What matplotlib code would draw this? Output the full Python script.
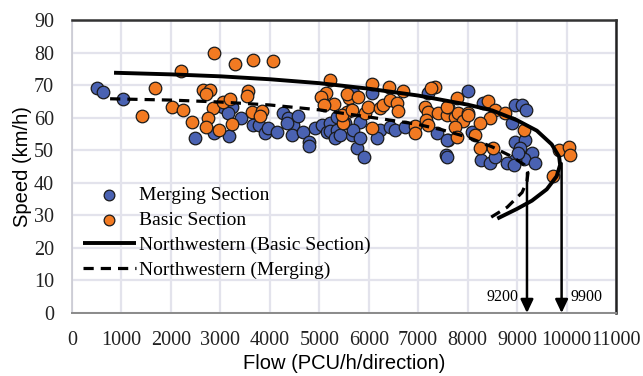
import matplotlib
matplotlib.use("Agg")
import matplotlib.pyplot as plt
import numpy as np

# ---------------- data ----------------
merging_flow = [500, 620, 1025, 2490, 2870, 3175, 3055, 3235, 3150, 3420, 3660, 3780, 3900, 3970,
                4145, 4270, 4370, 4470, 4570, 4450, 4340, 4670, 4790, 4790, 4915, 5055, 5160, 5215,
                5215, 5360, 5360, 5320, 5620, 5660, 5760, 5520, 5420, 5690, 6060, 5825, 5690, 5825,
                5905, 6230, 6430, 6530, 6735, 6175, 7375, 7610, 7565, 8085, 8270, 8455, 8555, 8015,
                7205, 8320, 8960, 9095, 9180, 8890, 7575, 7575, 8960, 9160, 9060, 9295, 9130, 8960,
                8790, 8940, 9365, 9025]
merging_speed = [69.0, 67.8, 65.8, 53.7, 55.2, 54.5, 63.4, 63.3, 61.5, 59.9, 57.7, 57.7, 55.3, 56.7,
                 55.7, 61.4, 59.9, 57.7, 60.5, 54.7, 58.3, 55.7, 52.6, 51.3, 56.8, 57.7, 55.7, 58.4,
                 56.0, 60.3, 56.2, 53.7, 66.4, 54.7, 50.7, 58.3, 54.7, 67.5, 67.5, 58.8, 56.2, 53.7,
                 48.0, 56.2, 57.2, 56.2, 57.2, 53.9, 55.2, 53.1, 48.5, 55.7, 47.0, 46.0, 48.0, 68.3,
                 67.5, 64.6, 63.9, 63.9, 62.3, 58.3, 48.0, 53.1, 52.6, 53.1, 50.6, 49.0, 47.2, 47.0,
                 46.0, 45.5, 46.2, 49.0]

basic_flow = [2870, 3300, 3655, 4070, 2200, 1680, 1410, 2015, 2250, 2435, 2650, 2790, 2700, 2860,
              2760, 2700, 2980, 3060, 3195, 3240, 3565, 3530, 3635, 3835, 3800, 5215, 5130, 5035,
              5305, 5100, 5595, 5640, 5475, 5555, 5455, 6060, 6400, 6700, 7340, 7250, 7780, 8405,
              8555, 8455, 8520, 8250, 5555, 5790, 5655, 5925, 5990, 6230, 6295, 6430, 6565, 6600,
              6060, 6935, 6935, 7140, 7205, 7160, 7205, 7410, 7590, 7745, 7610, 7810, 7915, 8015,
              7745, 7780, 8150, 8250, 7575, 8015, 8755, 9130, 9855, 10055, 10070, 9735]
basic_speed = [79.8, 76.4, 77.8, 77.4, 74.3, 69.2, 60.5, 63.4, 62.3, 58.6, 68.5, 68.5, 67.2, 63.1,
               59.8, 57.2, 56.2, 64.9, 65.6, 58.0, 68.3, 66.7, 61.6, 62.1, 60.6, 71.6, 67.5, 66.2,
               64.2, 63.8, 65.9, 62.3, 58.3, 61.8, 60.8, 70.3, 69.3, 68.3, 69.4, 69.0, 65.9, 65.1,
               62.3, 59.8, 50.6, 50.6, 67.2, 66.4, 62.3, 61.3, 63.4, 62.9, 63.9, 65.4, 64.4, 62.1,
               56.7, 57.4, 55.4, 63.4, 61.8, 59.3, 57.9, 61.5, 60.8, 60.3, 63.4, 61.3, 59.1, 61.3,
               57.2, 54.1, 54.7, 58.3, 63.4, 60.8, 61.5, 56.2, 50.1, 50.9, 48.5, 42.2]

nw_basic_flow = [850, 2000, 3000, 4000, 5000, 6000, 7000, 8000, 8500, 9000, 9400, 9700, 9850,
                 9870, 9800, 9600, 9300, 9000, 8600]
nw_basic_speed = [73.8, 73.3, 72.7, 71.8, 70.6, 68.9, 66.8, 64.0, 62.2, 59.2, 56.0, 51.8, 48.0,
                  45.5, 42.0, 38.0, 34.5, 32.0, 29.0]

nw_merge_flow = [770, 2000, 3000, 4000, 5000, 5500, 6000, 6500, 7000, 7500, 8000, 8500, 8900,
                 9150, 9220, 9200, 9100, 8800, 8450]
nw_merge_speed = [65.8, 65.4, 64.8, 63.9, 62.4, 61.3, 60.2, 59.1, 57.9, 56.2, 54.0, 51.0, 48.0,
                  45.5, 43.0, 40.5, 37.0, 32.5, 29.2]

capacity_values = [9200, 9900]
capacity_top_speed = [43, 46]
capacity_labels = ["9200", "9900"]

x_ticks = list(range(0, 11001, 1000))
y_ticks = list(range(0, 91, 10))

# ---------------- style ----------------
blue = "#4A62B2"
orange = "#F27A22"
grid_c = "#E3E3EC"
serif = ["Liberation Serif", "DejaVu Serif"]
sans = ["Liberation Sans", "DejaVu Sans"]

fig = plt.figure(figsize=(6.43, 3.76), dpi=100)
ax = fig.add_axes([72/643, 63/376, 544/643, 293/376])

ax.set_xlim(0, 11000)
ax.set_ylim(0, 90)
ax.set_xticks(x_ticks)
ax.set_yticks(y_ticks)
ax.set_xticklabels([str(t) for t in x_ticks], fontfamily=serif, fontsize=14.5)
ax.set_yticklabels([str(t) for t in y_ticks], fontfamily=serif, fontsize=14.5)
ax.tick_params(length=0, colors="#222222")
ax.tick_params(axis="x", pad=13)
ax.tick_params(axis="y", pad=13)
ax.grid(True, color=grid_c, linewidth=1.6, zorder=0)
ax.set_axisbelow(True)

for side, col, lw in [("top", "#333333", 1.8), ("right", "#222222", 1.8),
                      ("left", "#C9C9D2", 1.2), ("bottom", "#8A8A8A", 1.4)]:
    ax.spines[side].set_color(col)
    ax.spines[side].set_linewidth(lw)

ax.scatter(merging_flow, merging_speed, s=82, c=blue, edgecolors="#1a1a1a",
           linewidths=0.9, zorder=3, label="Merging Section")
ax.scatter(basic_flow, basic_speed, s=82, c=orange, edgecolors="#1a1a1a",
           linewidths=0.9, zorder=4, label="Basic Section")
ax.plot(nw_basic_flow, nw_basic_speed, color="black", lw=2.8, zorder=5,
        solid_capstyle="butt", label="Northwestern (Basic Section)")
ax.plot(nw_merge_flow, nw_merge_speed, color="black", lw=2.3, zorder=5,
        dashes=(3.2, 2.2), label="Northwestern (Merging)")

for xv, top, lab, side in zip(capacity_values, capacity_top_speed, capacity_labels, ["left", "right"]):
    ax.annotate("", xy=(xv, 0), xytext=(xv, top),
                arrowprops=dict(arrowstyle="-|>,head_length=0.8,head_width=0.38",
                                color="black", lw=1.8, shrinkA=0, shrinkB=0), zorder=6)
    if side == "left":
        ax.text(xv - 170, 5, lab, ha="right", va="center", fontfamily=serif, fontsize=11.5)
    else:
        ax.text(xv + 170, 5, lab, ha="left", va="center", fontfamily=serif, fontsize=11.5)

leg = ax.legend(loc="upper left", bbox_to_anchor=(0.006, 0.46), frameon=False,
                prop={"family": serif, "size": 14}, handlelength=2.7, handletextpad=0.2,
                labelspacing=0.38, borderaxespad=0, markerscale=0.85)

ax.set_xlabel("Flow (PCU/h/direction)", fontfamily=sans, fontsize=14.5, labelpad=3)
ax.set_ylabel("Speed (km/h)", fontfamily=sans, fontsize=14.5, labelpad=1)

fig.savefig("out.png", dpi=100)
